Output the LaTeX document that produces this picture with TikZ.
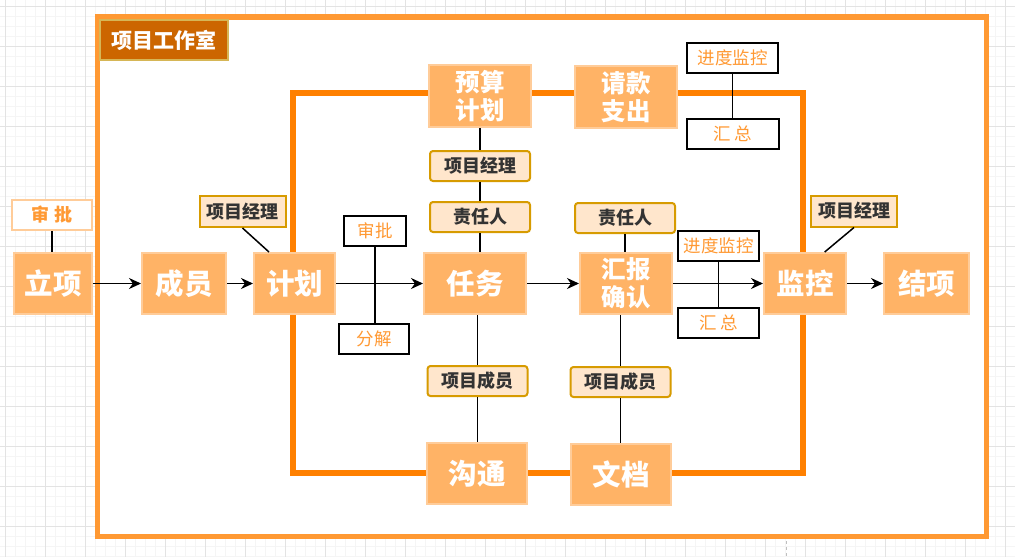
\documentclass[tikz,border=0pt]{standalone}
\usepackage{fontspec}
\setmainfont{Noto Sans CJK SC}
\usetikzlibrary{arrows.meta}

\definecolor{stagefill}{HTML}{FFB366}
\definecolor{stageline}{HTML}{FFCC99}
\definecolor{outerorange}{HTML}{FF9933}
\definecolor{innerorange}{HTML}{FF8000}
\definecolor{titlefill}{HTML}{CC6600}
\definecolor{titleline}{HTML}{D6B656}
\definecolor{rolefill}{HTML}{FFE6CC}
\definecolor{roleline}{HTML}{D79B00}
\definecolor{roletext}{HTML}{333333}
\definecolor{notetext}{HTML}{FF9933}

\begin{document}
\begin{tikzpicture}[
            x=1pt, y=-1pt,
            stage/.style={
                    draw=stageline,
                    fill=stagefill,
                    line width=2pt,
                    rectangle,
                    minimum width=82pt,
                    minimum height=61pt,
                    inner sep=0pt,
                    align=center,
                    text=white,
                    font=\fontsize{28.5}{29}\selectfont\bfseries
                },
            stagetwo/.style={stage, font=\fontsize{24.5}{28}\selectfont\bfseries},
            role/.style={
                    draw=roleline,
                    fill=rolefill,
                    line width=2pt,
                    rectangle,
                    rounded corners=3pt,
                    minimum width=100pt,
                    minimum height=30pt,
                    inner sep=0pt,
                    text=roletext,
                    font=\fontsize{18}{20}\selectfont\bfseries
                },
            rolesquare/.style={role, rounded corners=0pt,
                    minimum width=86pt, minimum height=31pt},
            note/.style={
                    draw=black,
                    fill=white,
                    line width=2pt,
                    rectangle,
                    minimum width=81pt,
                    minimum height=30pt,
                    inner sep=0pt,
                    text=notetext,
                    font=\fontsize{17.5}{20}\selectfont
                },
            arrow/.style={
            -{Stealth[length=12pt,width=11pt]},
            line width=1.5pt
            },
            link/.style={line width=1.5pt},
            gridminor/.style={draw=black!4, line width=0.8pt},
            gridmajor/.style={draw=black!11, line width=0.8pt}
            ]

            \useasboundingbox (0,0) rectangle (1015,557);

            % Rejilla de fondo
            \foreach \x in {15,25,...,1015} {\draw[gridminor] (\x,0) -- (\x,557);}
            \foreach \y in {16,26,...,557} {\draw[gridminor] (0,\y) -- (1015,\y);}
            \foreach \x in {5,45,...,1015} {\draw[gridmajor] (\x,0) -- (\x,557);}
            \foreach \y in {6,46,...,557} {\draw[gridmajor] (0,\y) -- (1015,\y);}
            \draw[black!25, dashed, line width=0.8pt] (786,541) -- (786,557);

            % Marcos
            \draw[draw=outerorange, fill=white, line width=5.5pt]
            (97.5,17) rectangle (986.5,536.5);
            \draw[draw=innerorange, line width=6pt]
            (293,93) rectangle (802.5,473);
            \node[draw=titleline, fill=titlefill, line width=1.5pt,
            minimum width=128pt, minimum height=40pt, inner sep=0pt,
            text=white, font=\fontsize{21}{22}\selectfont\bfseries]
            (studio) at (164,40) {项目工作室};

            % Etapas principales
            \node[stage, minimum width=78pt] (lixiang) at (53,283.5) {立项};
            \node[stage, minimum width=84pt] (chengyuan) at (184,283.5) {成员};
            \node[stage, minimum width=81pt] (jihua) at (294.5,283.5) {计划};
            \node[stage, minimum width=102pt] (renwu) at (475,283.5) {任务};
            \node[stagetwo, minimum width=92pt] (huibao) at (626,283.5)
            {汇报\\确认};
            \node[stage] (jiankong) at (805,283.5) {监控};
            \node[stage, minimum width=85pt] (jiexiang) at (926.5,283.5) {结项};
            \node[stagetwo, minimum width=102pt, minimum height=62pt]
            (yusuan) at (480,96) {预算\\计划};
            \node[stagetwo, minimum width=102pt, minimum height=62pt]
            (qingkuan) at (626,97) {请款\\支出};
            \node[stage, minimum width=100pt] (goutong) at (477,473.5) {沟通};
            \node[stage, minimum width=100pt] (wendang) at (621,474.5) {文档};

            % Responsables
            \node[role] (pmTask) at (480,166) {项目经理};
            \node[role] (ownerTask) at (480,217) {责任人};
            \node[role] (ownerReport) at (625,218) {责任人};
            \node[role] (memberTask) at (477.5,381) {项目成员};
            \node[role] (memberReport) at (620.5,382) {项目成员};
            \node[rolesquare] (pmPlan) at (242.5,211.5) {项目经理};
            \node[rolesquare] (pmMonitor) at (854,211) {项目经理};

            % Notas
            \node[draw=stageline, fill=white, line width=2pt,
            minimum width=80pt, minimum height=30pt, inner sep=0pt,
            text=notetext, font=\fontsize{18}{20}\selectfont\bfseries]
            (approveStart) at (52,215) {审 批};
            \node[note, minimum width=62pt] (approvePlan) at (375,231) {审批};
            \node[note, minimum width=70pt] (splitPlan) at (374,339) {分解};
            \node[note, minimum width=91pt] (progressTop) at (732.5,58) {进度监控};
            \node[note, minimum width=92pt] (sumTop) at (733,134) {汇 总};
            \node[note] (progressMid) at (718.5,246) {进度监控};
            \node[note] (sumMid) at (718.5,323) {汇 总};

            % Conectores
            \draw[link] (approveStart.south) -- (approveStart.south |- lixiang.north);
            \draw[link] (pmPlan.south) -- (jihua.129);
            \draw[link] (pmMonitor.south) -- (jiankong.58);
            \draw[link] (approvePlan.south) -- (approvePlan.south |- splitPlan.north);
            \draw[link] (progressTop.south) -- (progressTop.south |- sumTop.north);
            \draw[link] (progressMid.south) -- (progressMid.south |- sumMid.north);

            \draw[link] (yusuan.south) -- (pmTask.north);
            \draw[link] (pmTask.south) -- (ownerTask.north);
            \draw[link] (ownerTask.south) -- (ownerTask.south |- renwu.north);
            \draw[link] (memberTask.north) -- (memberTask.north |- renwu.south);
            \draw[link] (memberTask.south) -- (memberTask.south |- goutong.north);
            \draw[link] (ownerReport.south) -- (ownerReport.south |- huibao.north);
            \draw[link] (memberReport.north) -- (memberReport.north |- huibao.south);
            \draw[link] (memberReport.south) -- (memberReport.south |- wendang.north);

            \draw[arrow] (lixiang) -- (chengyuan);
            \draw[arrow] (chengyuan) -- (jihua);
            \draw[arrow] (jihua) -- (renwu);
            \draw[arrow] (renwu) -- (huibao);
            \draw[arrow] (huibao) -- (jiankong);
            \draw[arrow] (jiankong) -- (jiexiang);

        \end{tikzpicture}
\end{document}
